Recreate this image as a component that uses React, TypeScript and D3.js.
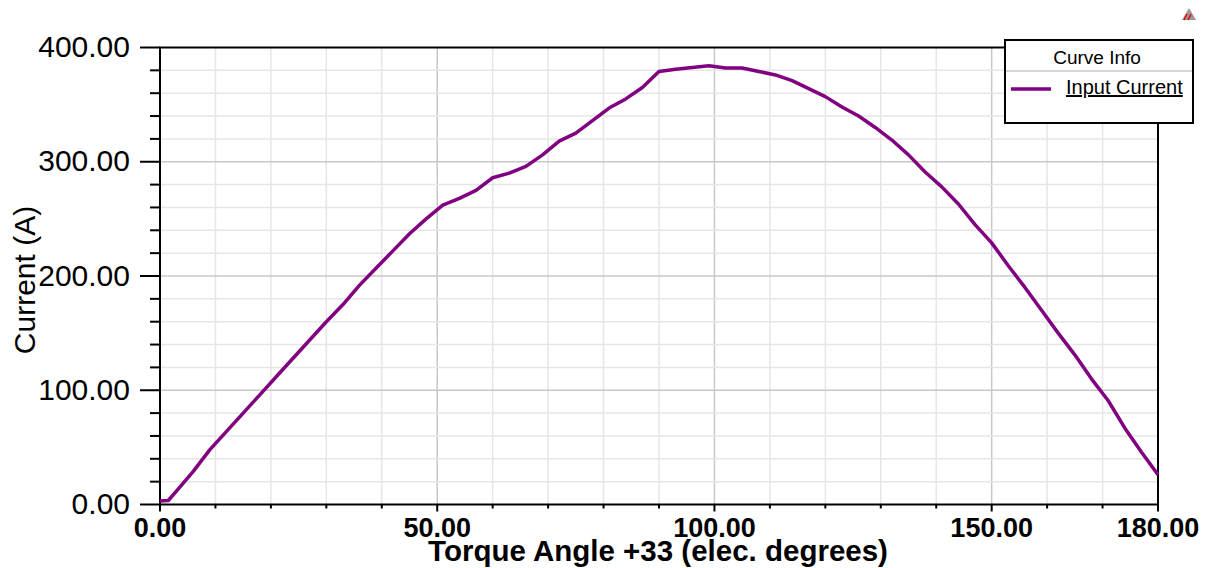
import React from "react";
import * as d3 from "d3";

// torque angle (elec. deg) vs input current (A)
const angles = [
  0, 1.5, 3, 6, 9, 12, 15, 18, 21, 24, 27, 30, 33, 36, 39, 42, 45, 48, 51, 54,
  57, 60, 63, 66, 69, 72, 75, 78, 81, 84, 87, 90, 93, 96, 99, 102, 105, 108,
  111, 114, 117, 120, 123, 126, 129, 132, 135, 138, 141, 144, 147, 150, 153,
  156, 159, 162, 165, 168, 171, 174, 177, 180,
];
const current = [
  3, 3.5, 12, 29, 48, 64, 80, 96, 112, 128, 144, 160, 175, 192, 207, 222, 237,
  250, 262, 268, 275, 286, 290, 296, 306, 318, 325, 336, 347, 355, 365, 379,
  381, 382.5, 384, 382, 382, 379, 376, 371, 364, 357, 348, 340, 330, 319, 306,
  291, 278, 263, 245, 229, 209, 190, 170, 150, 131, 110, 91, 67, 46, 26,
];

const xLabels = [0, 50, 100, 150, 180];
const yLabels = [0, 100, 200, 300, 400];
const seriesName = "Input Current";
const xTitle = "Torque Angle +33 (elec. degrees)";
const yTitle = "Current (A)";

const W = 1209;
const H = 568;
const m = { left: 160, right: 1158, top: 47.5, bottom: 504.5 };
const purple = "#800080";

export default function App() {
  const x = d3.scaleLinear().domain([0, 180]).range([m.left, m.right]);
  const y = d3.scaleLinear().domain([0, 400]).range([m.bottom, m.top]);

  const pts = angles.map((a, i) => [a, current[i]] as [number, number]);
  const line = d3
    .line<[number, number]>()
    .x((d) => x(d[0]))
    .y((d) => y(d[1]));

  const xGrid = d3.range(10, 180, 10);
  const yGrid = d3.range(20, 400, 20);
  const font = "'Liberation Sans', Arial, sans-serif";

  return (
    <svg
      width={W}
      height={H}
      style={{ position: "absolute", left: 0, top: 0, background: "#fff" }}
      fontFamily={font}
    >
      {/* grid */}
      {xGrid.map((v) => (
        <line
          key={"gx" + v}
          x1={x(v)}
          x2={x(v)}
          y1={m.top}
          y2={m.bottom}
          stroke={v % 50 === 0 ? "#c8c8c8" : "#e6e6e6"}
          strokeWidth={1.5}
        />
      ))}
      {yGrid.map((v) => (
        <line
          key={"gy" + v}
          x1={m.left}
          x2={m.right}
          y1={y(v)}
          y2={y(v)}
          stroke={v % 100 === 0 ? "#c8c8c8" : "#e6e6e6"}
          strokeWidth={1.5}
        />
      ))}

      {/* ticks */}
      {d3.range(0, 181, 10).map((v) => (
        <line
          key={"tx" + v}
          x1={x(v)}
          x2={x(v)}
          y1={m.bottom}
          y2={m.bottom + (xLabels.includes(v) ? 7 : 4)}
          stroke="#000"
          strokeWidth={2}
        />
      ))}
      {d3.range(0, 401, 20).map((v) => (
        <line
          key={"ty" + v}
          x1={m.left - (v % 100 === 0 ? 20 : 10)}
          x2={m.left}
          y1={y(v)}
          y2={y(v)}
          stroke="#000"
          strokeWidth={2}
        />
      ))}

      {/* frame */}
      <rect
        x={m.left}
        y={m.top}
        width={m.right - m.left}
        height={m.bottom - m.top}
        fill="none"
        stroke="#000"
        strokeWidth={2}
      />

      {/* curve */}
      <path
        d={line(pts) || ""}
        fill="none"
        stroke={purple}
        strokeWidth={3.5}
        strokeLinejoin="round"
      />

      {/* tick labels */}
      {yLabels.map((v) => (
        <text
          key={"ly" + v}
          x={130}
          y={y(v) + 9.5}
          textAnchor="end"
          fontSize={30}
          fill="#000"
        >
          {v.toFixed(2)}
        </text>
      ))}
      {xLabels.map((v) => (
        <text
          key={"lx" + v}
          x={x(v)}
          y={536.5}
          textAnchor="middle"
          fontSize={27}
          fontWeight="bold"
          fill="#000"
        >
          {v.toFixed(2)}
        </text>
      ))}

      {/* axis titles */}
      <text
        x={658}
        y={561}
        textAnchor="middle"
        fontSize={29.5}
        fontWeight="bold"
        fill="#000"
      >
        {xTitle}
      </text>
      <text
        transform="translate(35,280) rotate(-90)"
        textAnchor="middle"
        fontSize={30}
        fill="#000"
      >
        {yTitle}
      </text>

      {/* legend */}
      <rect x={1005} y={40} width={188} height={83} fill="#fff" stroke="#000" strokeWidth={2} />
      <line x1={1006} x2={1192} y1={71} y2={71} stroke="#c8c8c8" strokeWidth={1.5} />
      <text x={1097} y={64} textAnchor="middle" fontSize={19} fill="#000">
        Curve Info
      </text>
      <line x1={1011} x2={1051} y1={89} y2={89} stroke={purple} strokeWidth={3.5} />
      <text
        x={1066}
        y={94}
        fontSize={20}
        fill="#000"
        textDecoration="underline"
      >
        {seriesName}
      </text>

      {/* logo mark */}
      <g transform="translate(1182,8)">
        <path d="M0,12 L7,0 L14,12 Z" fill="#999" />
        <path d="M2,12 L5,6 M6,12 L9,6" stroke="#e00" strokeWidth={1.5} />
      </g>
    </svg>
  );
}
